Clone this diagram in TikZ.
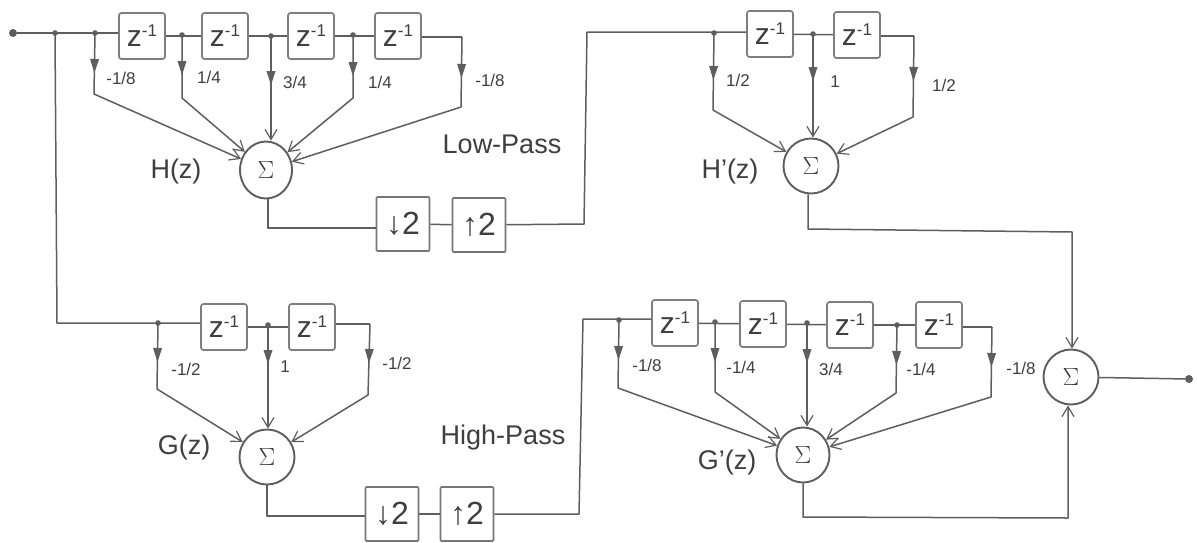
\documentclass[tikz,border=0pt]{standalone}
\usepackage{fontspec}
\setmainfont{Liberation Sans}
\usetikzlibrary{arrows.meta,shapes.geometric,decorations.markings}
\definecolor{ink}{HTML}{5E5E5E}
\definecolor{txt}{HTML}{3F3F3F}
\newcommand{\zinv}{\fontsize{30}{30}\selectfont z\raisebox{10pt}{\fontsize{17}{17}\selectfont -1}}
\tikzset{
  wire/.style={draw=ink,line width=1.5pt,line join=round},
  dly/.style={draw=ink!80,line width=1.7pt,rounded corners=2.5pt,fill=white,minimum width=46pt,minimum height=46pt,inner sep=0pt,text=txt},
  rate/.style={draw=ink!85,line width=1.7pt,rounded corners=1pt,fill=white,minimum width=53pt,minimum height=54pt,inner sep=0pt,text=txt,font=\fontsize{32}{32}\selectfont},
  sumn/.style={ellipse,draw=ink,line width=1.9pt,fill=white,minimum width=55pt,minimum height=55pt,inner sep=0pt,text=txt,font=\fontsize{26}{26}\selectfont},
  lab/.style={text=txt,inner sep=0pt,font=\fontsize{27}{30}\selectfont},
  coef/.style={text=txt,inner sep=0pt,font=\fontsize{17}{20}\selectfont},
  dotn/.style={circle,fill=ink,inner sep=0pt,minimum size=#1},
  into/.style={-{Straight Barb[length=10pt,width=12pt,line width=1.2pt]}},
  tap/.style={postaction={decorate,decoration={markings,mark=at position #1pt with {\fill[ink] (7pt,0pt)--(-7pt,4.5pt)--(-7pt,-4.5pt)--cycle;}}}},
}
\begin{document}
\begin{tikzpicture}[x=1pt,y=-1pt]
\useasboundingbox (0,0) rectangle (1197,542);
\fill[white] (0,0) rectangle (1197,542);

% H(z)
\node[dotn=8pt] (in) at (13,33) {};
\coordinate (a0) at (55,33);
\coordinate (a1) at (95,33);
\coordinate (a2) at (182,35);
\coordinate (a3) at (271,36);
\coordinate (a4) at (353,35);
\coordinate (a5) at (462,37);
\node[dly] (hz1) at (142,36) {\zinv};
\node[dly] (hz2) at (225,36) {\zinv};
\node[dly] (hz3) at (311,36) {\zinv};
\node[dly] (hz4) at (398,36) {\zinv};
\node[sumn,minimum width=52pt,minimum height=57pt] (hs) at (266,170) {$\Sigma$};
\coordinate (ab1) at (94,94);
\coordinate (ab2) at (182,98);
\coordinate (ab4) at (353,98);
\coordinate (ab5) at (461,107);
\draw[wire] (in) -- (a1) -- (hz1.west |- a1);
\draw[wire] (hz1) -- (hz2);
\draw[wire] (hz2) -- (hz3);
\draw[wire] (hz3) -- (hz4);
\draw[wire] (hz4.east |- a5) -- (a5);
\foreach \j in {a0,a1,a2,a3,a4} \fill[ink] (\j) circle (2.8pt);
\draw[wire,into,tap=33] (a1) -- (ab1) -- (hs);
\draw[wire,into,tap=33] (a2) -- (ab2) -- (hs);
\draw[wire,into,tap=42] (a3) -- (a3 |- hs.north);
\draw[wire,into,tap=34] (a4) -- (ab4) -- (hs);
\draw[wire,into,tap=34] (a5) -- (ab5) -- (hs);
\node[coef] at (121,78) {-1/8};
\node[coef] at (209,77) {1/4};
\node[coef] at (295,82) {3/4};
\node[coef] at (380,82) {1/4};
\node[coef] at (490,80) {-1/8};
\node[lab] at (176,172) {H(z)};
\node[lab] at (502,144) {Low-Pass};

\node[rate] (hd) at (403,224) {↓2};
\node[rate] (hu) at (479,225) {↑2};
\coordinate (hc) at (268,228);
\draw[wire] (hc |- hs.south) -- (hc) -- (hd.west |- hc);
\draw[wire] (hd) -- (hu);
\coordinate (l1) at (584,224);
\coordinate (l2) at (587,32);

% H'(z)
\node[dly] (pz1) at (770,34) {\zinv};
\node[dly] (pz2) at (857,35) {\zinv};
\node[sumn] (ps) at (811,166) {$\Sigma$};
\coordinate (p1) at (714,33);
\coordinate (p2) at (813,34);
\coordinate (p3) at (914,36);
\coordinate (pb1) at (713,110);
\coordinate (pb3) at (913,117);
\draw[wire] (hu) -- (l1) -- (l2) -- (pz1.west |- l2);
\draw[wire] (pz1) -- (pz2);
\draw[wire] (pz2.east |- p3) -- (p3);
\foreach \j in {p1,p2} \fill[ink] (\j) circle (2.8pt);
\draw[wire,into,tap=40] (p1) -- (pb1) -- (ps);
\draw[wire,into,tap=40] (p2) -- (p2 |- ps.north);
\draw[wire,into,tap=38] (p3) -- (pb3) -- (ps);
\node[coef] at (738,80) {1/2};
\node[coef] at (835,82) {1};
\node[coef] at (944,85) {1/2};
\node[lab] at (730,172) {H'(z)};

% G(z)
\coordinate (g0) at (57,323);
\coordinate (g1) at (158,323);
\coordinate (g2) at (268,325);
\coordinate (g3) at (370,324);
\node[dly] (gz1) at (224,327) {\zinv};
\node[dly] (gz2) at (312,327) {\zinv};
\node[sumn] (gs) at (267,457) {$\Sigma$};
\coordinate (gb1) at (157,389);
\coordinate (gb3) at (368,395);
\draw[wire] (a0) -- (g0) -- (gz1.west |- g0);
\draw[wire] (gz1) -- (gz2);
\draw[wire] (gz2.east |- g3) -- (g3);
\foreach \j in {g1,g2} \fill[ink] (\j) circle (2.8pt);
\draw[wire,into,tap=32] (g1) -- (gb1) -- (gs);
\draw[wire,into,tap=32] (g2) -- (g2 |- gs.north);
\draw[wire,into,tap=32] (g3) -- (gb3) -- (gs);
\node[coef] at (186,369) {-1/2};
\node[coef] at (285,367) {1};
\node[coef] at (397,363) {-1/2};
\node[lab] at (184,448) {G(z)};
\node[lab] at (503,438) {High-Pass};

\node[rate] (gd) at (392,514) {↓2};
\node[rate] (gu) at (467,514) {↑2};
\coordinate (gc) at (267,516);
\draw[wire] (gc |- gs.south) -- (gc) -- (gd.west |- gc);
\draw[wire] (gd) -- (gu);
\coordinate (m1) at (579,514);
\coordinate (m2) at (583,319);

% G'(z)
\node[dly] (qz1) at (675,323) {\zinv};
\node[dly] (qz2) at (763,324) {\zinv};
\node[dly] (qz3) at (850,325) {\zinv};
\node[dly] (qz4) at (939,325) {\zinv};
\node[sumn,minimum width=53pt] (qs) at (803,455) {$\Sigma$};
\coordinate (q1) at (619,320);
\coordinate (q2) at (715,322);
\coordinate (q3) at (807,323);
\coordinate (q4) at (897,325);
\coordinate (q5) at (992,327);
\coordinate (qb1) at (618,388);
\coordinate (qb2) at (715,392);
\coordinate (qb4) at (896,393);
\coordinate (qb5) at (991,397);
\draw[wire] (gu) -- (m1) -- (m2) -- (qz1.west |- m2);
\draw[wire] (qz1) -- (qz2);
\draw[wire] (qz2) -- (qz3);
\draw[wire] (qz3) -- (qz4);
\draw[wire] (qz4.east |- q5) -- (q5);
\foreach \j in {q1,q2,q3,q4} \fill[ink] (\j) circle (2.8pt);
\draw[wire,into,tap=33] (q1) -- (qb1) -- (qs);
\draw[wire,into,tap=33] (q2) -- (qb2) -- (qs);
\draw[wire,into,tap=33] (q3) -- (q3 |- qs.north);
\draw[wire,into,tap=33] (q4) -- (qb4) -- (qs);
\draw[wire,into,tap=33] (q5) -- (qb5) -- (qs);
\node[coef] at (647,365) {-1/8};
\node[coef] at (741,367) {-1/4};
\node[coef] at (831,369) {3/4};
\node[coef] at (921,369) {-1/4};
\node[coef] at (1021,368) {-1/8};
\node[lab] at (727,463) {G'(z)};

% final sum
\node[sumn] (fs) at (1071,377) {$\Sigma$};
\node[dotn=8pt] (out) at (1189,379) {};
\coordinate (pc) at (808,229);
\coordinate (pd) at (1072,232);
\coordinate (qc) at (803,517);
\coordinate (qd) at (1068,518);
\draw[wire,into] (pc |- ps.south) -- (pc) -- (pd) -- (pd |- fs.north);
\draw[wire,into] (qs.south) -- (qc) -- (qd) -- (qd |- fs.south);
\draw[wire] (fs) -- (out);
\end{tikzpicture}
\end{document}
